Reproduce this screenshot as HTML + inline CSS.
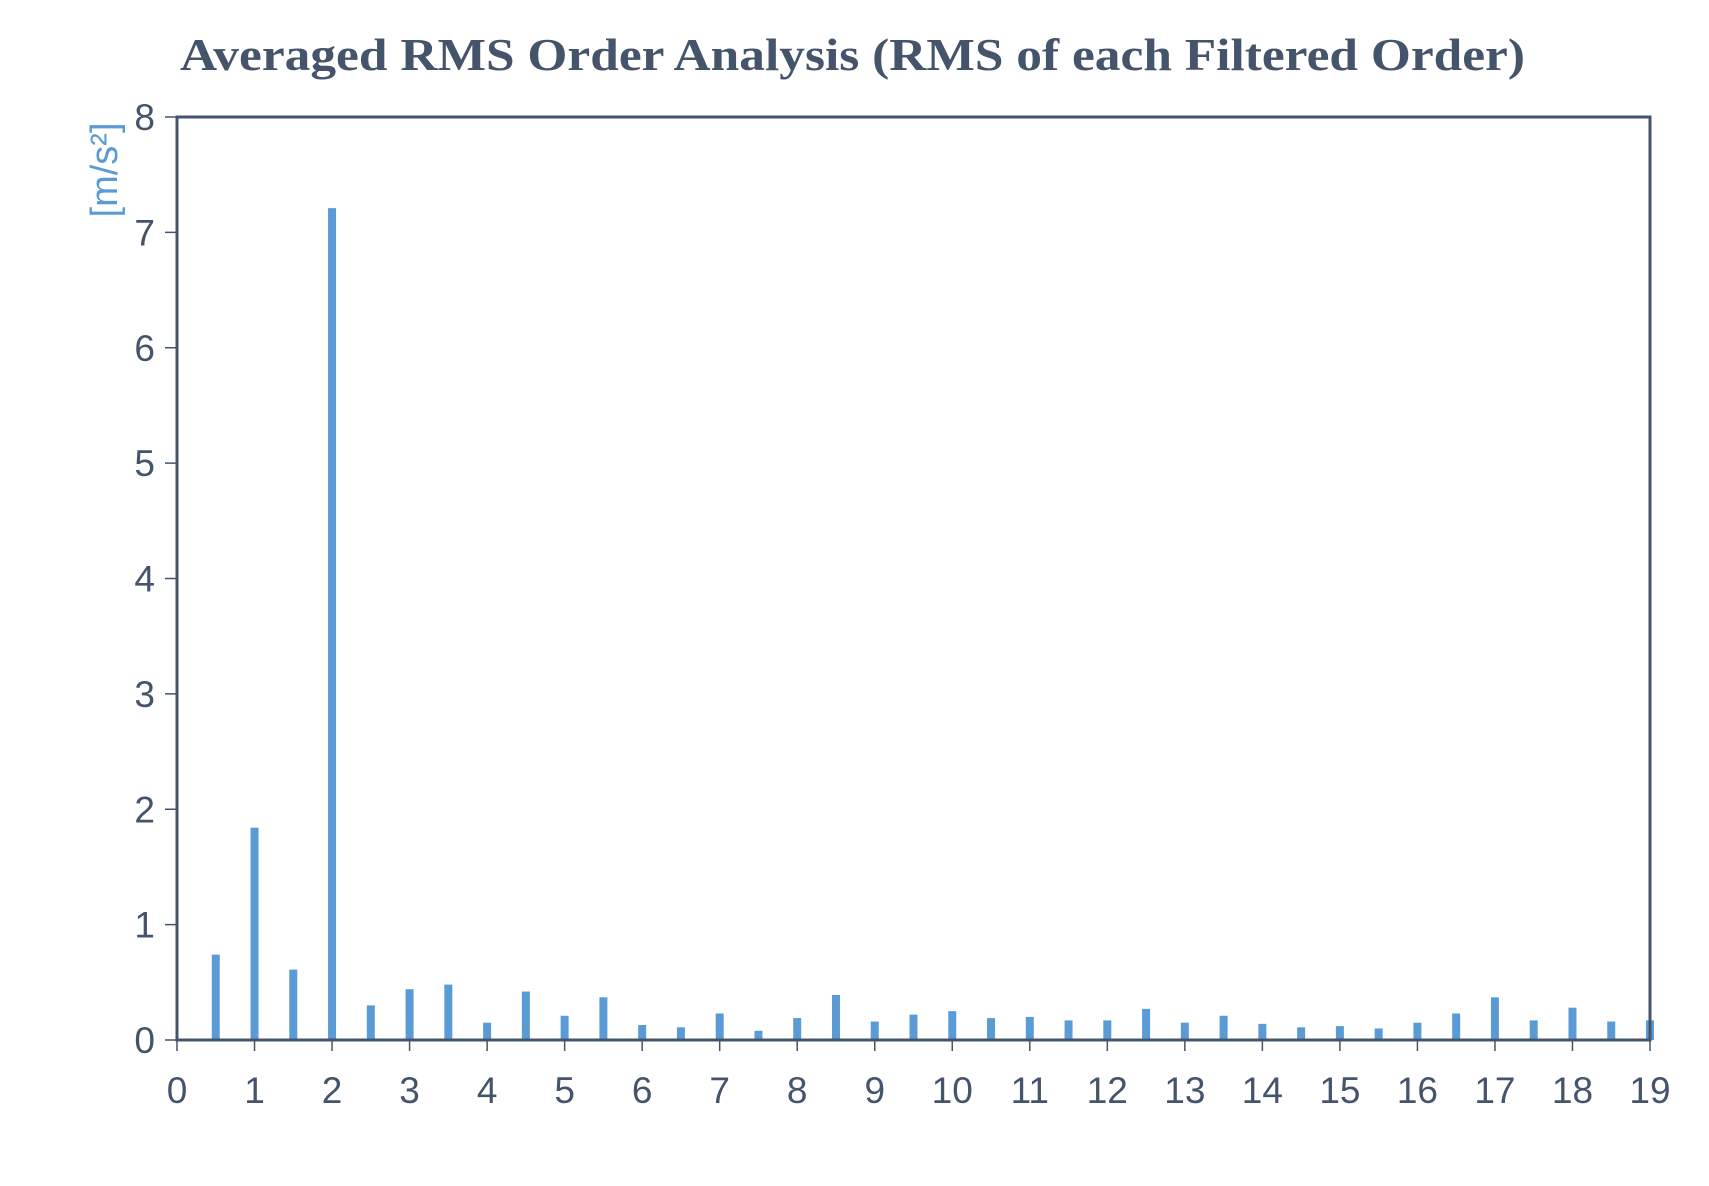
<!DOCTYPE html>
<html><head><meta charset="utf-8"><style>body{margin:0;background:#fff}</style></head><body>
<svg width="1709" height="1181" xmlns="http://www.w3.org/2000/svg">
<rect width="1709" height="1181" fill="#fff"/>
<text x="180" y="70" font-family="Liberation Serif, serif" font-weight="bold" font-size="46" fill="#44546a" textLength="1345" lengthAdjust="spacingAndGlyphs">Averaged RMS Order Analysis (RMS of each Filtered Order)</text>
<text transform="translate(117,170) rotate(-90)" text-anchor="middle" font-family="Liberation Sans, sans-serif" font-size="38" fill="#5b9bd5">[m/s²]</text>
<g id="bars" fill="#5b9bd5"></g>
<g id="ax" stroke="#44546a"></g>
<g id="lbl" font-family="Liberation Sans, sans-serif" font-size="37" fill="#44546a"></g>
</svg>
<script>
const L=177,R=1650,T=117,B=1040,ux=(R-L)/19,uy=(B-T)/8;
const v=[0.74,1.84,0.61,7.21,0.30,0.44,0.48,0.15,0.42,0.21,0.37,0.13,0.11,0.23,0.08,0.19,0.39,0.16,0.22,0.25,0.19,0.20,0.17,0.17,0.27,0.15,0.21,0.14,0.11,0.12,0.10,0.15,0.23,0.37,0.17,0.28,0.16,0.17];
let b='',a='',l='';
v.forEach((y,i)=>{const x=L+(i+1)*0.5*ux;b+=`<rect x="${x-4}" y="${B-y*uy}" width="8" height="${y*uy}"/>`;});
a+=`<rect x="${L}" y="${T}" width="${R-L}" height="${B-T}" fill="none" stroke-width="3"/>`;
for(let i=0;i<=8;i++){const y=B-i*uy;a+=`<line x1="${L-12}" x2="${L}" y1="${y}" y2="${y}" stroke-width="1.5"/>`;l+=`<text x="155" y="${y+13}" text-anchor="end">${i}</text>`;}
for(let i=0;i<=19;i++){const x=L+i*ux;a+=`<line x1="${x}" x2="${x}" y1="${B}" y2="${B+11}" stroke-width="1.5"/>`;l+=`<text x="${x}" y="1103" text-anchor="middle">${i}</text>`;}
document.getElementById('bars').innerHTML=b;document.getElementById('ax').innerHTML=a;document.getElementById('lbl').innerHTML=l;
</script>
</body></html>
